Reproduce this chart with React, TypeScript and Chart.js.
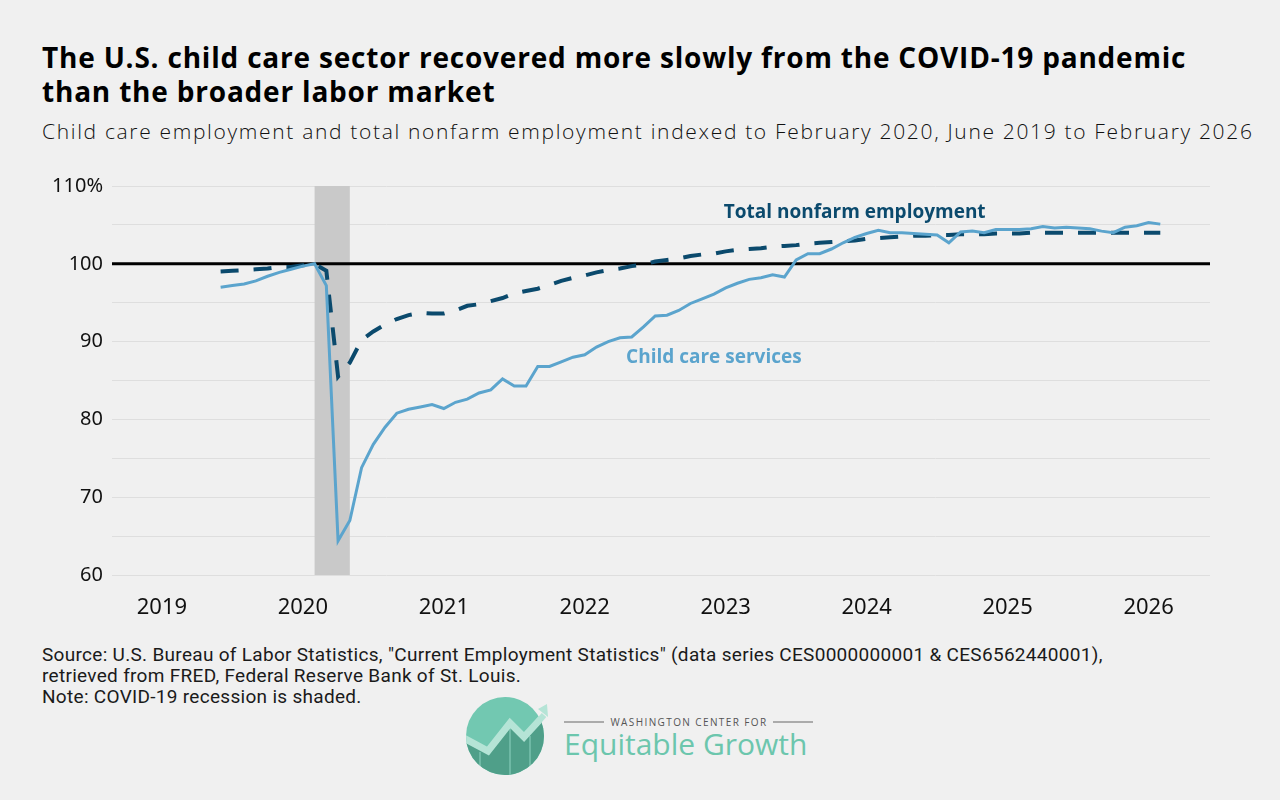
import React, { useEffect, useRef } from 'react';
import { Chart, registerables } from 'chart.js';

Chart.register(...registerables);

// ---- DATA ----
const startYear = 2019;
const startMonth = 6; // June 2019, monthly to February 2026

const childCare = [
  // 2019 Jun-Dec
  97.0, 97.2, 97.4, 97.8, 98.4, 98.9, 99.3,
  // 2020
  99.7, 100.0, 97.2, 64.4, 67.0, 73.8, 76.8, 79.0, 80.8, 81.3, 81.6, 81.9,
  // 2021
  81.4, 82.2, 82.6, 83.4, 83.8, 85.2, 84.3, 84.3, 86.8, 86.8, 87.4, 88.0,
  // 2022
  88.3, 89.3, 90.0, 90.5, 90.6, 91.9, 93.3, 93.4, 94.0, 94.9, 95.5, 96.1,
  // 2023
  96.9, 97.5, 98.0, 98.2, 98.6, 98.3, 100.5, 101.3, 101.3, 101.9, 102.7, 103.4,
  // 2024
  103.9, 104.3, 104.0, 104.0, 103.9, 103.8, 103.7, 102.7, 104.1, 104.2, 104.0, 104.4,
  // 2025
  104.4, 104.4, 104.5, 104.8, 104.6, 104.7, 104.6, 104.5, 104.2, 104.0, 104.7, 104.9,
  // 2026 Jan-Feb
  105.3, 105.1,
];

const totalNonfarm = [
  // 2019 Jun-Dec
  99.0, 99.1, 99.2, 99.3, 99.4, 99.6, 99.6,
  // 2020
  99.8, 100.0, 99.1, 85.5, 87.3, 90.2, 91.3, 92.2, 92.9, 93.4, 93.7, 93.6,
  // 2021
  93.6, 94.0, 94.6, 94.8, 95.2, 95.6, 96.2, 96.5, 96.8, 97.3, 97.8, 98.2,
  // 2022
  98.5, 98.9, 99.2, 99.4, 99.7, 99.9, 100.3, 100.5, 100.7, 101.0, 101.2, 101.3,
  // 2023
  101.6, 101.8, 101.9, 102.0, 102.2, 102.3, 102.4, 102.6, 102.7, 102.8, 102.9, 103.0,
  // 2024
  103.2, 103.3, 103.4, 103.5, 103.6, 103.6, 103.7, 103.7, 103.8, 103.8, 103.8, 103.9,
  // 2025
  103.9, 103.9, 104.0, 104.0, 104.0, 104.0, 104.0, 104.0, 104.0, 104.0, 104.0, 104.0,
  // 2026 Jan-Feb
  104.0, 104.0,
];

const seriesNames = ['Child care services', 'Total nonfarm employment'];
const yearTicks = [2019, 2020, 2021, 2022, 2023, 2024, 2025, 2026];
const yTicks = [60, 65, 70, 75, 80, 85, 90, 95, 100, 105, 110];
const yTickLabels: Record<number, string> = { 60: '60', 70: '70', 80: '80', 90: '90', 100: '100', 110: '110%' };
const recessionStart = 2020 + 1 / 12;
const recessionEnd = 2020 + 4 / 12;

// label anchors in data units
const nonfarmLabelAt = { x: 2023.915, y: 106.55 };
const childLabelAt = { x: 2022.916, y: 87.9 };

const CHILD_COLOR = '#5ba4cd';
const NONFARM_COLOR = '#0b4a6d';

const toPoints = (vals: number[]) =>
  vals.map((v, i) => ({ x: startYear + (startMonth - 1 + i) / 12, y: v }));

const overlayPlugin = {
  id: 'overlay',
  beforeDatasetsDraw(chart: any) {
    const { ctx, chartArea, scales } = chart;
    const x = scales.x;
    const y = scales.y;
    ctx.save();
    const x0 = x.getPixelForValue(recessionStart);
    const x1 = x.getPixelForValue(recessionEnd);
    ctx.fillStyle = '#c9c9c9';
    ctx.fillRect(x0, chartArea.top, x1 - x0, chartArea.bottom - chartArea.top);
    const y100 = y.getPixelForValue(100);
    ctx.strokeStyle = '#000';
    ctx.lineWidth = 3;
    ctx.beginPath();
    ctx.moveTo(chartArea.left, y100);
    ctx.lineTo(chartArea.right, y100);
    ctx.stroke();
    ctx.restore();
  },
  afterDatasetsDraw(chart: any) {
    const { ctx, scales } = chart;
    const x = scales.x;
    const y = scales.y;
    ctx.save();
    ctx.font = 'bold 19px "Open Sans"';
    ctx.textAlign = 'center';
    ctx.textBaseline = 'middle';
    ctx.fillStyle = NONFARM_COLOR;
    ctx.fillText(seriesNames[1], x.getPixelForValue(nonfarmLabelAt.x), y.getPixelForValue(nonfarmLabelAt.y));
    ctx.fillStyle = CHILD_COLOR;
    ctx.fillText(seriesNames[0], x.getPixelForValue(childLabelAt.x), y.getPixelForValue(childLabelAt.y));
    ctx.restore();
  },
};

function Logo() {
  return (
    <svg width="360" height="90" viewBox="0 0 360 90" style={{ position: 'absolute', left: 460, top: 692 }}>
      <defs>
        <clipPath id="circ">
          <circle cx="45" cy="44" r="39" />
        </clipPath>
      </defs>
      <g clipPath="url(#circ)">
        <rect x="0" y="0" width="100" height="100" fill="#72c8b1" />
        <polygon points="0,48 28,62 50,34 64,48 86,24 100,24 100,100 0,100" fill="#4f9f89" />
        <line x1="20" y1="60" x2="20" y2="90" stroke="#8fd3c1" strokeWidth="1" />
        <line x1="50" y1="36" x2="50" y2="90" stroke="#8fd3c1" strokeWidth="1" />
        <line x1="70" y1="44" x2="70" y2="90" stroke="#8fd3c1" strokeWidth="1" />
      </g>
      <g clipPath="url(#circ)">
        <polyline points="2,45 28,59 50,31 64,45 86,21" fill="none" stroke="#b5e4d6" strokeWidth="7" />
      </g>
      <polyline points="78,30 84,23" fill="none" stroke="#b5e4d6" strokeWidth="6" />
      <polygon points="78,17 87,12 88,25" fill="#b5e4d6" />
      <line x1="104" y1="30" x2="144" y2="30" stroke="#666" strokeWidth="1" />
      <text x="229" y="34" textAnchor="middle" fontFamily="'Open Sans'" fontSize="10" letterSpacing="1.4" fill="#555">WASHINGTON CENTER FOR</text>
      <line x1="313" y1="30" x2="353" y2="30" stroke="#666" strokeWidth="1" />
      <text x="104" y="63" fontFamily="'Open Sans'" fontSize="30" fill="#6cc6ad">Equitable Growth</text>
    </svg>
  );
}

export default function App() {
  const canvasRef = useRef<HTMLCanvasElement | null>(null);

  useEffect(() => {
    document.body.style.margin = '0';
    const canvas = canvasRef.current;
    if (!canvas) return;
    Chart.defaults.font.family = '"Noto Sans", sans-serif';
    const chart = new Chart(canvas, {
      type: 'line',
      data: {
        datasets: [
          {
            label: seriesNames[0],
            data: toPoints(childCare),
            borderColor: CHILD_COLOR,
            borderWidth: 3,
            pointRadius: 0,
            tension: 0,
            order: 0,
          },
          {
            label: seriesNames[1],
            data: toPoints(totalNonfarm),
            borderColor: NONFARM_COLOR,
            borderWidth: 4,
            borderDash: [18, 15],
            pointRadius: 0,
            tension: 0,
            order: 1,
          },
        ],
      },
      options: {
        responsive: false,
        animation: false,
        layout: { padding: { left: 0, right: 70, top: 26, bottom: 0 } },
        plugins: { legend: { display: false }, tooltip: { enabled: false } },
        scales: {
          x: {
            type: 'linear',
            min: 2018.646,
            max: 2026.436,
            afterBuildTicks: (scale: any) => {
              scale.ticks = yearTicks.map((v) => ({ value: v }));
            },
            afterFit: (scale: any) => {
              scale.height = 65;
            },
            grid: { display: false, drawTicks: false },
            border: { display: false },
            ticks: {
              padding: 20,
              color: '#111',
              font: { size: 22 },
              callback: (v: any) => String(v),
              maxRotation: 0,
              autoSkip: false,
            },
          },
          y: {
            min: 60,
            max: 110,
            afterBuildTicks: (scale: any) => {
              scale.ticks = yTicks.map((v) => ({ value: v }));
            },
            afterFit: (scale: any) => {
              scale.width = 112;
            },
            grid: { color: '#dedede', lineWidth: 1, drawTicks: false },
            border: { display: false },
            ticks: {
              padding: 9,
              color: '#111',
              font: { size: 20 },
              autoSkip: false,
              callback: (v: any) => yTickLabels[v as number] ?? '',
            },
          },
        },
      },
      plugins: [overlayPlugin],
    });
    return () => chart.destroy();
  }, []);

  return (
    <div
      style={{
        position: 'fixed',
        left: 0,
        top: 0,
        width: 1280,
        height: 800,
        background: '#f0f0f0',
        fontFamily: '"Open Sans", sans-serif',
        overflow: 'hidden',
      }}
    >
      <div
        style={{
          position: 'absolute',
          left: 42,
          top: 40,
          fontSize: 28,
          fontWeight: 700,
          lineHeight: '34px',
          letterSpacing: '0.8px',
          color: '#000',
          whiteSpace: 'nowrap',
        }}
      >
        The U.S. child care sector recovered more slowly from the COVID-19 pandemic
        <br />
        than the broader labor market
      </div>
      <div
        style={{
          position: 'absolute',
          left: 42,
          top: 117,
          fontSize: 21,
          fontWeight: 300,
          color: '#111',
          whiteSpace: 'nowrap',
          letterSpacing: '1.67px',
        }}
      >
        Child care employment and total nonfarm employment indexed to February 2020, June 2019 to February 2026
      </div>
      <canvas
        ref={canvasRef}
        width={1280}
        height={480}
        style={{ position: 'absolute', left: 0, top: 160, width: 1280, height: 480 }}
      />
      <div
        style={{
          position: 'absolute',
          left: 42,
          top: 644,
          fontSize: 19,
          lineHeight: '21px',
          letterSpacing: '0.3px',
          fontFamily: 'Roboto, sans-serif',
          color: '#1a1a1a',
          whiteSpace: 'nowrap',
        }}
      >
        Source: U.S. Bureau of Labor Statistics, "Current Employment Statistics" (data series CES0000000001 &amp; CES6562440001),
        <br />
        retrieved from FRED, Federal Reserve Bank of St. Louis.
        <br />
        Note: COVID-19 recession is shaded.
      </div>
      <Logo />
    </div>
  );
}
